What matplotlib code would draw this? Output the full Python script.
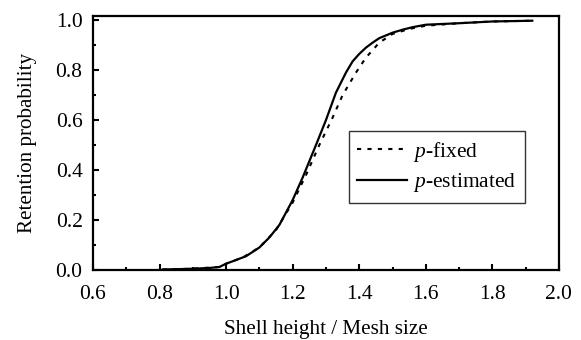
import matplotlib
matplotlib.use("Agg")
import matplotlib.pyplot as plt
from matplotlib.ticker import MultipleLocator, FormatStrFormatter

plt.rcParams['font.family'] = ['Liberation Serif', 'DejaVu Serif']
plt.rcParams['mathtext.fontset'] = 'custom'
plt.rcParams['mathtext.rm'] = 'Liberation Serif'
plt.rcParams['mathtext.it'] = 'Liberation Serif:italic'

# p-estimated (solid)
est_x = [0.81, 0.88, 0.95, 0.98, 1.00, 1.03, 1.06, 1.10, 1.13, 1.16, 1.20, 1.23, 1.27,
         1.30, 1.33, 1.36, 1.38, 1.40, 1.42, 1.44, 1.46, 1.50, 1.53, 1.56, 1.60,
         1.70, 1.80, 1.92]
est_y = [0.002, 0.004, 0.008, 0.012, 0.025, 0.04, 0.055, 0.09, 0.13, 0.18, 0.28, 0.37, 0.50,
         0.60, 0.71, 0.79, 0.835, 0.865, 0.89, 0.91, 0.928, 0.95, 0.962, 0.972, 0.982,
         0.988, 0.995, 0.998]

# p-fixed (dotted)
fix_x = [0.81, 0.90, 0.98, 1.00, 1.05, 1.10, 1.15, 1.20, 1.24, 1.28, 1.32, 1.35, 1.39,
         1.42, 1.46, 1.50, 1.55, 1.60, 1.70, 1.80, 1.92]
fix_y = [0.002, 0.005, 0.012, 0.025, 0.05, 0.09, 0.16, 0.27, 0.38, 0.50, 0.61, 0.70, 0.79,
         0.85, 0.91, 0.945, 0.965, 0.978, 0.988, 0.995, 0.998]

fig = plt.figure(figsize=(5.81, 3.40), dpi=100)
ax = fig.add_axes([0.160, 0.206, 0.802, 0.747])

ax.plot(fix_x, fix_y, color='black', lw=1.5, linestyle=(0, (2, 3)), label='$p$-fixed')
ax.plot(est_x, est_y, color='black', lw=1.6, linestyle='-', label='$p$-estimated')

ax.set_xlim(0.6, 2.0)
ax.set_ylim(0.0, 1.017)
ax.xaxis.set_major_locator(MultipleLocator(0.2))
ax.xaxis.set_minor_locator(MultipleLocator(0.1))
ax.yaxis.set_major_locator(MultipleLocator(0.2))
ax.yaxis.set_minor_locator(MultipleLocator(0.1))
ax.xaxis.set_major_formatter(FormatStrFormatter('%.1f'))
ax.yaxis.set_major_formatter(FormatStrFormatter('%.1f'))

ax.tick_params(axis='both', which='major', direction='in', length=4.5, width=1.5,
               labelsize=15.5)
ax.tick_params(axis='both', which='minor', direction='in', length=2.5, width=1.5)
ax.tick_params(top=False, right=False, which='both')
ax.tick_params(axis='x', pad=11)
ax.tick_params(axis='y', pad=7.5)

for s in ax.spines.values():
    s.set_linewidth(1.6)

ax.set_xlabel('Shell height / Mesh size', fontsize=15.2, labelpad=11)
ax.set_ylabel('Retention probability', fontsize=15.2, labelpad=13)

leg = ax.legend(loc='upper left', bbox_to_anchor=(0.549, 0.547), borderaxespad=0,
                fontsize=15.5, frameon=True, fancybox=False, edgecolor='black',
                handlelength=2.3, handletextpad=0.3, borderpad=0.4, labelspacing=0.35)
leg.get_frame().set_linewidth(1.0)

fig.savefig('out.png', dpi=100)
